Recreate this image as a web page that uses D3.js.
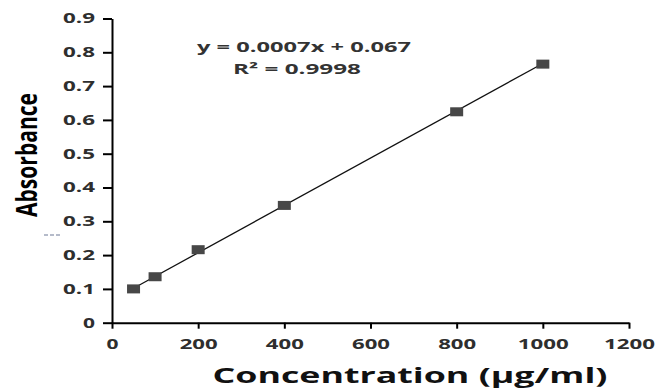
<!DOCTYPE html>
<html>
<head>
<meta charset="utf-8">
<script src="https://cdn.jsdelivr.net/npm/d3@7"></script>
<style>
  body { margin: 0; background: #fff; }
  text { font-family: "Open Sans", "Liberation Sans", sans-serif; font-weight: 700; }
</style>
</head>
<body>
<div id="chart"></div>
<script>
// data
const concentrations = [50, 100, 200, 400, 800, 1000];
const absorbances = [0.100, 0.136, 0.216, 0.347, 0.624, 0.765];
const xTicks = [0, 200, 400, 600, 800, 1000, 1200];
const yTicks = [0, 0.1, 0.2, 0.3, 0.4, 0.5, 0.6, 0.7, 0.8, 0.9];
const slope = 0.0007, intercept = 0.067;
const equationText = "y = 0.0007x + 0.067";
const r2Text = "R² = 0.9998";

const width = 663, height = 389;

const svg = d3.select("#chart").append("svg")
  .attr("width", width)
  .attr("height", height);

const x = d3.scaleLinear().domain([0, 1200]).range([112, 629]);
const y = d3.scaleLinear().domain([0, 0.9]).range([322.7, 18.5]);

// rough width of a label in the stretched look of the original
function labelWidth(s) {
  let w = 0;
  for (const c of s) w += (c === "." ? 7 : 13);
  return w - 1;
}

// y axis
const yAxis = svg.append("g")
  .attr("transform", `translate(${x(0)},0)`)
  .call(d3.axisLeft(y).tickValues(yTicks).tickSize(9).tickSizeOuter(0).tickPadding(8)
    .tickFormat(d => d === 0 ? "0" : d3.format(".1f")(d)));

// x axis
const xAxis = svg.append("g")
  .attr("transform", `translate(0,${y(0)})`)
  .call(d3.axisBottom(x).tickValues(xTicks).tickSize(6).tickSizeOuter(0).tickPadding(10)
    .tickFormat(d3.format("d")));

[yAxis, xAxis].forEach(g => {
  g.select(".domain").attr("stroke", "#000").attr("stroke-width", 2);
  g.selectAll(".tick line").attr("stroke", "#000").attr("stroke-width", 2);
  g.selectAll(".tick text")
    .attr("fill", "#2e2e2e")
    .attr("font-size", 14)
    .attr("lengthAdjust", "spacingAndGlyphs")
    .attr("textLength", function () { return labelWidth(this.textContent); });
});

// trend line
const xr = d3.extent(concentrations);
svg.append("path")
  .datum(xr)
  .attr("fill", "none")
  .attr("stroke", "#111")
  .attr("stroke-width", 1.3)
  .attr("d", d3.line().x(d => x(d)).y(d => y(slope * d + intercept)));

// markers
svg.selectAll("rect.pt")
  .data(concentrations)
  .join("rect")
  .attr("class", "pt")
  .attr("x", d => x(d) - 6.5)
  .attr("y", (d, i) => y(absorbances[i]) - 4.5)
  .attr("width", 13)
  .attr("height", 9)
  .attr("fill", "#474747");

// equation
svg.append("text")
  .attr("x", 304).attr("y", 52)
  .attr("text-anchor", "middle")
  .attr("font-size", 14)
  .attr("fill", "#333")
  .attr("lengthAdjust", "spacingAndGlyphs")
  .attr("textLength", 214)
  .text(equationText);

svg.append("text")
  .attr("x", 297).attr("y", 74)
  .attr("text-anchor", "middle")
  .attr("font-size", 14)
  .attr("fill", "#333")
  .attr("lengthAdjust", "spacingAndGlyphs")
  .attr("textLength", 128)
  .text(r2Text);

// axis titles
svg.append("text")
  .attr("x", 410).attr("y", 383)
  .attr("text-anchor", "middle")
  .attr("font-size", 22)
  .attr("fill", "#111")
  .attr("lengthAdjust", "spacingAndGlyphs")
  .attr("textLength", 395)
  .text("Concentration (μg/ml)");

svg.append("text")
  .attr("transform", "translate(37,155) rotate(-90)")
  .attr("text-anchor", "middle")
  .attr("font-size", 29)
  .attr("fill", "#000")
  .attr("lengthAdjust", "spacingAndGlyphs")
  .attr("textLength", 124)
  .text("Absorbance");

// small stray dash left of the axis
svg.append("line")
  .attr("x1", 44).attr("x2", 62)
  .attr("y1", 235).attr("y2", 235)
  .attr("stroke", "#6d7896")
  .attr("stroke-width", 1.2)
  .attr("stroke-dasharray", "4,2");
</script>
</body>
</html>
